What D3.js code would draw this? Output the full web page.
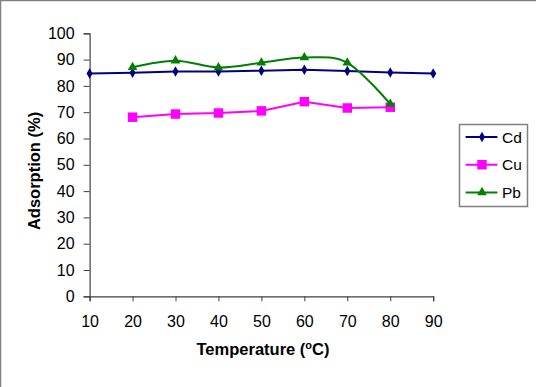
<!DOCTYPE html>
<html>
<head>
<meta charset="utf-8">
<script src="https://cdn.jsdelivr.net/npm/d3@7"></script>
<style>
  body { margin: 0; background: #fff; }
  svg { display: block; font-family: "Liberation Sans", Arial, sans-serif; }
</style>
</head>
<body>
<div id="chart"></div>
<script>
// data
const temps = [10, 20, 30, 40, 50, 60, 70, 80, 90];
const cdTemps = [10, 20, 30, 40, 50, 60, 70, 80, 90];
const cdValues = [84.7, 85.0, 85.5, 85.5, 85.8, 86.1, 85.7, 85.1, 84.7];
const cuTemps = [20, 30, 40, 50, 60, 70, 80];
const cuValues = [68.1, 69.3, 69.7, 70.5, 74.0, 71.6, 71.9];
const pbTemps = [20, 30, 40, 50, 60, 70, 80];
const pbValues = [87.1, 89.6, 87.0, 88.8, 90.8, 88.8, 73.1];
const yTicks = [0, 10, 20, 30, 40, 50, 60, 70, 80, 90, 100];

const width = 536, height = 387;

const svg = d3.select("#chart")
    .append("svg")
    .attr("width", width)
    .attr("height", height);

// outer chart frame (only left and top edges fall inside the picture)
svg.append("rect")
    .attr("x", 0.5).attr("y", 0.5)
    .attr("width", 700).attr("height", 600)
    .attr("fill", "#fff")
    .attr("stroke", "#808080")
    .attr("stroke-width", 1.5);

const x = d3.scalePoint()
    .domain(temps)
    .range([89.6, 433.2]);

const y = d3.scaleLinear()
    .domain([0, 100])
    .range([296.3, 33.3]);

// axes
const xAxis = svg.append("g")
    .attr("transform", `translate(0,${y(0)})`)
    .call(d3.axisBottom(x).tickSize(5).tickPadding(14));

const yAxis = svg.append("g")
    .attr("transform", `translate(${x(10)},0)`)
    .call(d3.axisLeft(y).tickValues(yTicks).tickSize(6).tickPadding(9));

[xAxis, yAxis].forEach(ax => {
    ax.select(".domain").attr("stroke", "#404040").attr("stroke-width", 1.2);
    ax.selectAll(".tick line").attr("stroke", "#404040");
    ax.selectAll("text")
        .attr("fill", "#000")
        .style("font-family", "'Liberation Sans', Arial, sans-serif")
        .style("font-size", "16px");
});

// axis titles
const xTitle = svg.append("text")
    .attr("x", 263)
    .attr("y", 355)
    .attr("text-anchor", "middle")
    .style("font-size", "16.5px")
    .style("font-weight", "bold");
xTitle.append("tspan").text("Temperature (");
xTitle.append("tspan").attr("dy", -6).style("font-size", "11px").text("o");
xTitle.append("tspan").attr("dy", 6).text("C)");

svg.append("text")
    .attr("transform", "translate(40,171) rotate(-90)")
    .attr("text-anchor", "middle")
    .style("font-size", "16.5px")
    .style("font-weight", "bold")
    .text("Adsorption (%)");

// series
const series = [
    { name: "Cd", t: cdTemps, v: cdValues, color: "#000080", marker: "diamond", curve: d3.curveLinear },
    { name: "Cu", t: cuTemps, v: cuValues, color: "#ff00ff", marker: "square", curve: d3.curveLinear },
    { name: "Pb", t: pbTemps, v: pbValues, color: "#008000", marker: "triangle", curve: d3.curveCardinal.tension(0) }
];

const symbols = {
    diamond: d3.symbol().type(d3.symbolDiamond).size(32),
    square: d3.symbol().type(d3.symbolSquare).size(90),
    triangle: d3.symbol().type(d3.symbolTriangle).size(40)
};

series.forEach(s => {
    const pts = s.t.map((t, i) => [x(t), y(s.v[i])]);
    svg.append("path")
        .attr("d", d3.line().curve(s.curve)(pts))
        .attr("fill", "none")
        .attr("stroke", s.color)
        .attr("stroke-width", 2);
    svg.selectAll(null)
        .data(pts)
        .enter()
        .append("path")
        .attr("transform", d => `translate(${d[0]},${d[1]})`)
        .attr("d", symbols[s.marker]())
        .attr("fill", s.color);
});

// legend
const legend = svg.append("g");
legend.append("rect")
    .attr("x", 459.5).attr("y", 124.5)
    .attr("width", 68).attr("height", 82)
    .attr("fill", "#fff")
    .attr("stroke", "#808080")
    .attr("stroke-width", 1.5);

series.forEach((s, i) => {
    const ly = 137 + i * 27.7;
    legend.append("line")
        .attr("x1", 465.6).attr("x2", 497.4)
        .attr("y1", ly).attr("y2", ly)
        .attr("stroke", s.color)
        .attr("stroke-width", 2);
    legend.append("path")
        .attr("transform", `translate(482,${ly})`)
        .attr("d", symbols[s.marker]())
        .attr("fill", s.color);
    legend.append("text")
        .attr("x", 502)
        .attr("y", ly + 5.5)
        .style("font-size", "15.5px")
        .text(s.name);
});
</script>
</body>
</html>
